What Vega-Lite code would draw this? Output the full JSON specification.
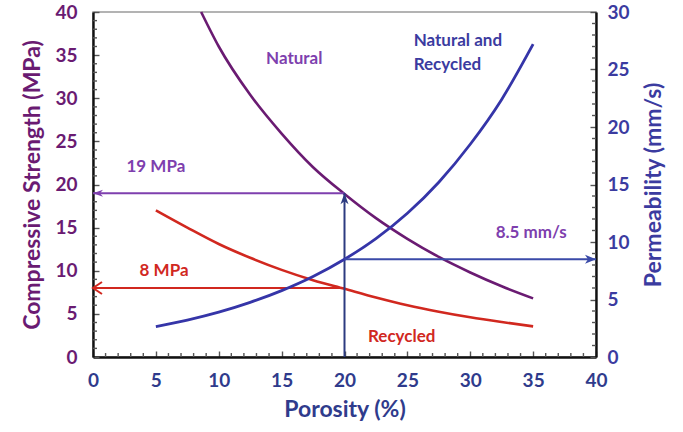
{
  "$schema": "https://vega.github.io/schema/vega-lite/v6.json",
  "width": 503,
  "height": 345,
  "autosize": {"type": "none"},
  "padding": {"left": 93, "top": 12, "right": 87, "bottom": 75},
  "background": "white",
  "config": {
    "font": "Lato",
    "view": {"stroke": "#9a9a9a", "strokeWidth": 1.5},
    "axis": {
      "grid": false,
      "domainColor": "#111111",
      "domainWidth": 2.4,
      "tickColor": "#555555",
      "tickWidth": 1.4,
      "tickSize": -6,
      "labelFont": "Lato",
      "labelFontWeight": "bold",
      "labelFontSize": 19,
      "labelOverlap": false,
      "labelFlush": false,
      "titleFont": "Lato",
      "titleFontWeight": "bold",
      "titleFontSize": 23
    }
  },
  "datasets": {
    "natural": [
      {"p": 8.6, "s": 40.0}, {"p": 10, "s": 36.0}, {"p": 12.5, "s": 30.4},
      {"p": 15, "s": 25.9}, {"p": 17.5, "s": 22.0}, {"p": 20, "s": 18.9},
      {"p": 22.5, "s": 16.1}, {"p": 25, "s": 13.7}, {"p": 27.5, "s": 11.6},
      {"p": 30, "s": 9.8}, {"p": 32.5, "s": 8.2}, {"p": 35, "s": 6.8}
    ],
    "recycled": [
      {"p": 5, "s": 17.0}, {"p": 7.5, "s": 15.0}, {"p": 10, "s": 13.1},
      {"p": 12.5, "s": 11.5}, {"p": 15, "s": 10.1}, {"p": 17.5, "s": 8.9},
      {"p": 20, "s": 7.9}, {"p": 22.5, "s": 6.9}, {"p": 25, "s": 6.0},
      {"p": 27.5, "s": 5.25}, {"p": 30, "s": 4.6}, {"p": 32.5, "s": 4.05},
      {"p": 35, "s": 3.55}
    ],
    "permeability": [
      {"p": 5, "k": 2.65}, {"p": 7.5, "k": 3.21}, {"p": 10, "k": 3.9},
      {"p": 12.5, "k": 4.75}, {"p": 15, "k": 5.77}, {"p": 17.5, "k": 7.0},
      {"p": 20, "k": 8.5}, {"p": 22.5, "k": 10.3}, {"p": 25, "k": 12.5},
      {"p": 27.5, "k": 15.2}, {"p": 30, "k": 18.5}, {"p": 32.5, "k": 22.4},
      {"p": 35, "k": 27.2}
    ],
    "readings": [
      {"group": "natural", "p": 20, "p2": 0, "s": 19, "s2": 19},
      {"group": "recycled", "p": 20, "p2": 0, "s": 8, "s2": 8},
      {"group": "porosity", "p": 20, "p2": 20, "s": 0, "s2": 19}
    ],
    "notes": [
      {"group": "natural", "p": 16.0, "s": 34.6, "label": "Natural"},
      {"group": "natural", "p": 5.0, "s": 22.0, "label": "19 MPa"},
      {"group": "recycled", "p": 5.65, "s": 10.0, "label": "8 MPa"},
      {"group": "recycled", "p": 24.55, "s": 2.35, "label": "Recycled"},
      {"group": "combined", "p": 34.85, "s": 14.4, "label": "8.5 mm/s"}
    ],
    "combinedNote": [
      {"p": 25.5, "s": 36.6, "label": "Natural and"},
      {"p": 25.5, "s": 33.9, "label": "Recycled"}
    ],
    "unitSteps40": [
      {"v": 1}, {"v": 2}, {"v": 3}, {"v": 4}, {"v": 6}, {"v": 7}, {"v": 8}, {"v": 9},
      {"v": 11}, {"v": 12}, {"v": 13}, {"v": 14}, {"v": 16}, {"v": 17}, {"v": 18}, {"v": 19},
      {"v": 21}, {"v": 22}, {"v": 23}, {"v": 24}, {"v": 26}, {"v": 27}, {"v": 28}, {"v": 29},
      {"v": 31}, {"v": 32}, {"v": 33}, {"v": 34}, {"v": 36}, {"v": 37}, {"v": 38}, {"v": 39}
    ],
    "unitSteps30": [
      {"v": 1}, {"v": 2}, {"v": 3}, {"v": 4}, {"v": 6}, {"v": 7}, {"v": 8}, {"v": 9},
      {"v": 11}, {"v": 12}, {"v": 13}, {"v": 14}, {"v": 16}, {"v": 17}, {"v": 18}, {"v": 19},
      {"v": 21}, {"v": 22}, {"v": 23}, {"v": 24}, {"v": 26}, {"v": 27}, {"v": 28}, {"v": 29}
    ]
  },
  "layer": [
    {
      "layer": [
        {
          "data": {"name": "natural"},
          "mark": {"type": "line", "color": "#6a1b72", "strokeWidth": 2.6, "interpolate": "monotone"},
          "encoding": {
            "x": {
              "field": "p", "type": "quantitative",
              "scale": {"domain": [0, 40], "nice": false},
              "axis": {
                "title": "Porosity (%)",
                "titleColor": "#2f3b8c",
                "titlePadding": 8,
                "labelColor": "#2f3b8c",
                "labelPadding": 20,
                "labelOverlap": false,
                "values": [0, 5, 10, 15, 20, 25, 30, 35, 40]
              }
            },
            "y": {
              "field": "s", "type": "quantitative",
              "scale": {"domain": [0, 40], "nice": false},
              "axis": {
                "title": "Compressive  Strength (MPa)",
                "titleColor": "#6a1b72",
                "titlePadding": 10,
                "labelColor": "#6a1b72",
                "labelPadding": 22,
                "labelOverlap": false,
                "values": [0, 5, 10, 15, 20, 25, 30, 35, 40]
              }
            }
          }
        },
        {
          "data": {"name": "unitSteps40"},
          "mark": {"type": "rule", "color": "#555555", "strokeWidth": 1.4},
          "encoding": {
            "x": {"datum": 0, "type": "quantitative"},
            "x2": {"datum": 0.32},
            "y": {"field": "v", "type": "quantitative"}
          }
        },
        {
          "data": {"name": "unitSteps40"},
          "mark": {"type": "rule", "color": "#555555", "strokeWidth": 1.4},
          "encoding": {
            "x": {"field": "v", "type": "quantitative"},
            "y": {"datum": 0, "type": "quantitative"},
            "y2": {"datum": 0.46}
          }
        },
        {
          "data": {"name": "recycled"},
          "mark": {"type": "line", "color": "#d1281f", "strokeWidth": 2.6, "interpolate": "monotone"},
          "encoding": {
            "x": {"field": "p", "type": "quantitative"},
            "y": {"field": "s", "type": "quantitative"}
          }
        },
        {
          "data": {"name": "readings"},
          "mark": {"type": "rule", "strokeWidth": 2},
          "encoding": {
            "x": {"field": "p", "type": "quantitative"},
            "x2": {"field": "p2"},
            "y": {"field": "s", "type": "quantitative"},
            "y2": {"field": "s2"},
            "color": {
              "field": "group", "type": "nominal", "legend": null,
              "scale": {"domain": ["natural", "recycled", "porosity"], "range": ["#7e3fae", "#d1281f", "#2c3b80"]}
            }
          }
        },
        {
          "data": {"name": "readings"},
          "transform": [{"filter": "datum.group === 'natural'"}],
          "mark": {"type": "point", "shape": "M0,0L10,-3.5L7,0L10,3.5Z", "size": 4, "filled": true, "color": "#7e3fae", "opacity": 1},
          "encoding": {
            "x": {"field": "p2", "type": "quantitative"},
            "y": {"field": "s2", "type": "quantitative"}
          }
        },
        {
          "data": {"name": "readings"},
          "transform": [{"filter": "datum.group === 'recycled'"}],
          "mark": {"type": "point", "shape": "M9,-6L0,0L9,6", "size": 4, "filled": false, "stroke": "#d1281f", "strokeWidth": 2, "opacity": 1},
          "encoding": {
            "x": {"field": "p2", "type": "quantitative"},
            "y": {"field": "s2", "type": "quantitative"}
          }
        },
        {
          "data": {"name": "readings"},
          "transform": [{"filter": "datum.group === 'porosity'"}],
          "mark": {"type": "point", "shape": "M0,0L-4,11L0,8L4,11Z", "size": 4, "filled": true, "color": "#2c3b80", "opacity": 1},
          "encoding": {
            "x": {"field": "p2", "type": "quantitative"},
            "y": {"field": "s2", "type": "quantitative"}
          }
        },
        {
          "data": {"name": "notes"},
          "mark": {"type": "text", "font": "Lato", "fontWeight": "bold", "fontSize": 17, "align": "center", "baseline": "middle"},
          "encoding": {
            "x": {"field": "p", "type": "quantitative"},
            "y": {"field": "s", "type": "quantitative"},
            "text": {"field": "label"},
            "color": {
              "field": "group", "type": "nominal", "legend": null,
              "scale": {"domain": ["natural", "recycled", "combined"], "range": ["#6a1b72", "#d1281f", "#3b3ba0"]}
            }
          }
        },
        {
          "data": {"name": "combinedNote"},
          "mark": {"type": "text", "font": "Lato", "fontWeight": "bold", "fontSize": 17, "align": "left", "baseline": "middle", "color": "#3b3ba0"},
          "encoding": {
            "x": {"field": "p", "type": "quantitative"},
            "y": {"field": "s", "type": "quantitative"},
            "text": {"field": "label"}
          }
        }
      ]
    },
    {
      "layer": [
        {
          "data": {"name": "permeability"},
          "mark": {"type": "line", "color": "#3535a8", "strokeWidth": 2.8, "interpolate": "monotone"},
          "encoding": {
            "x": {"field": "p", "type": "quantitative"},
            "y": {
              "field": "k", "type": "quantitative",
              "scale": {"domain": [0, 30], "nice": false},
              "axis": {
                "orient": "right",
                "title": "Permeability (mm/s)",
                "titleAngle": 270,
                "titleColor": "#3b3ba0",
                "titlePadding": 36,
                "labelColor": "#3b3ba0",
                "labelPadding": 17,
                "labelOverlap": false,
                "values": [0, 5, 10, 15, 20, 25, 30]
              }
            }
          }
        },
        {
          "data": {"name": "unitSteps30"},
          "mark": {"type": "rule", "color": "#555555", "strokeWidth": 1.4},
          "encoding": {
            "x": {"datum": 40, "type": "quantitative"},
            "x2": {"datum": 39.68},
            "y": {"field": "v", "type": "quantitative"}
          }
        },
        {
          "data": {"values": [{"p": 20, "p2": 40, "k": 8.5}]},
          "mark": {"type": "rule", "strokeWidth": 2, "color": "#3a4aa8"},
          "encoding": {
            "x": {"field": "p", "type": "quantitative"},
            "x2": {"field": "p2"},
            "y": {"field": "k", "type": "quantitative"}
          }
        },
        {
          "data": {"values": [{"p": 40, "k": 8.5}]},
          "mark": {"type": "point", "shape": "M0,0L-11,-4.5L-8,0L-11,4.5Z", "size": 4, "filled": true, "color": "#3a4aa8", "opacity": 1},
          "encoding": {
            "x": {"field": "p", "type": "quantitative"},
            "y": {"field": "k", "type": "quantitative"}
          }
        }
      ]
    }
  ],
  "resolve": {"scale": {"y": "independent"}}
}
